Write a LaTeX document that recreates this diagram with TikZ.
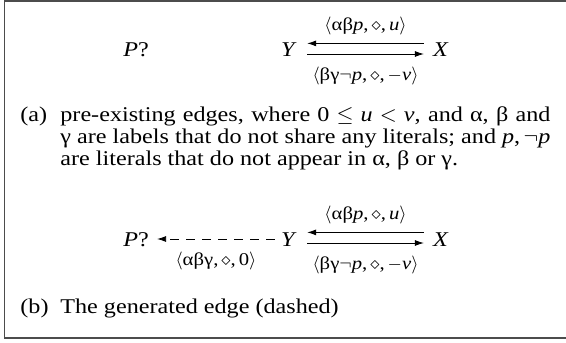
\documentclass[tikz,border=0pt]{standalone}
\usepackage{fontspec}
\setmainfont{Liberation Serif}[FakeStretch=1.15]
\usepackage{tikz}
\usetikzlibrary{positioning, arrows.meta}
\newcommand{\mv}[1]{\textit{#1}}

\begin{document}
\begin{tikzpicture}[
  x=0.5pt, y=-0.5pt,
  font=\fontsize{10.5pt}{11.2pt}\selectfont,
  >={Latex[length=4.5pt, width=3pt]},
  vertex/.style={inner sep=0pt, anchor=base},
  edgelabel/.style={inner sep=0pt, font=\fontsize{9pt}{10pt}\selectfont},
  capnum/.style={inner sep=0pt, anchor=base west},
  captext/.style={inner sep=0pt, anchor=base west, text width=245pt,
    align=justify}
]
\useasboundingbox (0,0) rectangle (566,342);
\draw[black!70, line width=0.8pt] (4.5,1) rectangle (590,338);

% (a) pre-existing edges
\node[vertex] (p1) at (136,57) {\mv{P}?};
\node[vertex] (y1) at (289,57) {\mv{Y}};
\node[vertex] (x1) at (441,57) {\mv{X}};

\draw[->] ([xshift=-4.5pt, yshift=6.8pt]x1.base west) --
  node[edgelabel, above=4pt] {$\langle$αβ\mv{p},\,$\diamond$,\,\mv{u}$\rangle$}
  ([xshift=5pt, yshift=6.8pt]y1.base east);
\draw[->] ([xshift=5pt, yshift=1.5pt]y1.base east) --
  node[edgelabel, below=6.5pt] {$\langle$βγ$\neg$\mv{p},\,$\diamond$,\,$-$\mv{v}$\rangle$}
  ([xshift=-4.5pt, yshift=1.5pt]x1.base west);

\node[capnum] (capa) at (20,121) {(a)};
\node[captext] (texta) at (60,121) {pre-existing edges, where 0~$\leq$~\mv{u}~$<$~\mv{v}, and
  α, β and γ are labels that do not share any literals; and \mv{p},\,$\neg$\mv{p}
  are literals that do not appear in α, β or γ.};

% (b) generated edge
\node[vertex] (p2) at (136,246) {\mv{P}?};
\node[vertex] (y2) at (289,246) {\mv{Y}};
\node[vertex] (x2) at (441,246) {\mv{X}};

\draw[->] ([xshift=-4.5pt, yshift=6.8pt]x2.base west) --
  node[edgelabel, above=4pt] {$\langle$αβ\mv{p},\,$\diamond$,\,\mv{u}$\rangle$}
  ([xshift=5pt, yshift=6.8pt]y2.base east);
\draw[->] ([xshift=5pt, yshift=1.5pt]y2.base east) --
  node[edgelabel, below=6.5pt] {$\langle$βγ$\neg$\mv{p},\,$\diamond$,\,$-$\mv{v}$\rangle$}
  ([xshift=-4.5pt, yshift=1.5pt]x2.base west);
\draw[->, dash pattern=on 4.5pt off 3.5pt] ([xshift=-3pt, yshift=3.5pt]y2.base west) --
  node[edgelabel, below=6.5pt] {$\langle$αβγ,\,$\diamond$,\,0$\rangle$}
  ([xshift=4pt, yshift=3.5pt]p2.base east);

\node[capnum] (capb) at (20,313) {(b)};
\node[capnum] (textb) at (60,313) {The generated edge (dashed)};

\end{tikzpicture}
\end{document}
